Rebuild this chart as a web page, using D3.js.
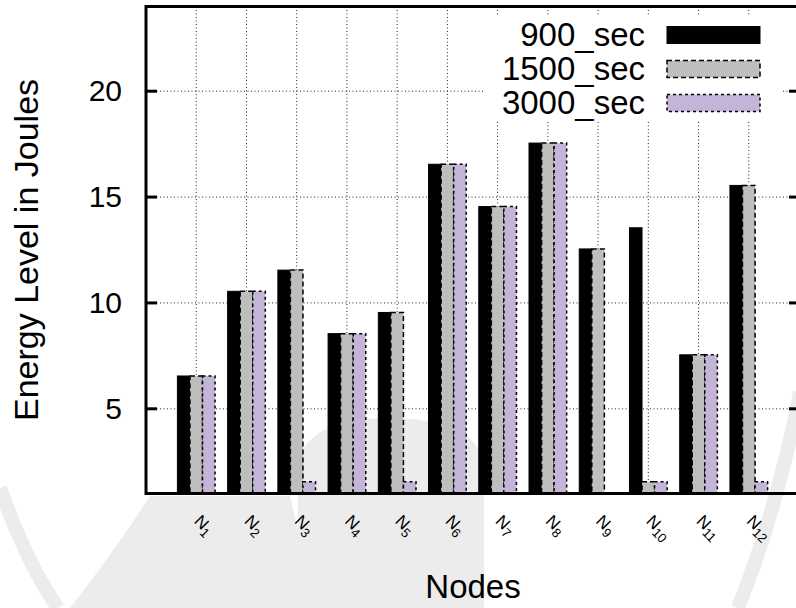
<!DOCTYPE html>
<html>
<head>
<meta charset="utf-8">
<script src="https://cdn.jsdelivr.net/npm/d3@7"></script>
<style>
  html, body { margin: 0; padding: 0; background: #fff; }
  svg { display: block; }
  text { font-family: "Liberation Sans", Arial, Helvetica, sans-serif; fill: #000; }
</style>
</head>
<body>
<svg id="chart" width="796" height="608"></svg>
<script>
// ---- data ----
const nodes = ["1", "2", "3", "4", "5", "6", "7", "8", "9", "10", "11", "12"];
const seriesNames = ["900_sec", "1500_sec", "3000_sec"];
const sec900  = [6.55, 10.55, 11.55, 8.55, 9.55, 16.55, 14.55, 17.55, 12.55, 13.55, 7.55, 15.55];
const sec1500 = [6.55, 10.55, 11.55, 8.55, 9.55, 16.55, 14.55, 17.55, 12.55, 1.55, 7.55, 15.55];
const sec3000 = [6.55, 10.55, 1.55, 8.55, 1.55, 16.55, 14.55, 17.55, 0, 1.55, 7.55, 1.55];
const yTicks = [5, 10, 15, 20];
const yTitle = "Energy Level in Joules";
const xTitle = "Nodes";

const seriesValues = [sec900, sec1500, sec3000];
const styles = [
  { fill: "#000000", dash: null, sw: 1 },
  { fill: "#bebebe", dash: "5,3", sw: 1.5 },
  { fill: "#c4b4d7", dash: "3,3", sw: 1.5 }
];

const svg = d3.select("#chart");

// ---- faint background watermark (approximate) ----
const wm = svg.append("g").attr("fill", "#ececec");
wm.append("path").attr("d", "M150,496 L290,496 C300,540 312,580 322,608 L70,608 C100,570 128,530 150,496 Z");
wm.append("path").attr("d", "M298,608 L298,470 C298,432 340,418 390,418 C440,418 484,432 484,470 L484,608 Z");
svg.append("path").attr("fill", "none").attr("stroke", "#ececec").attr("stroke-width", 14)
  .attr("d", "M800,392 C785,470 765,540 738,608");
svg.append("path").attr("fill", "none").attr("stroke", "#ececec").attr("stroke-width", 14)
  .attr("d", "M0,488 C15,530 35,575 58,608");

// ---- scales ----
const pL = 146, pR = 799, pT = 6.5, pB = 493.5;
const x = d3.scaleLinear().domain([-1, nodes.length]).range([pL, pR]);
const y = d3.scaleLinear().domain([1, 24]).range([pB, pT]);
const bw = x(0.25) - x(0);

// ---- grid ----
const grid = svg.append("g").attr("stroke", "#000").attr("stroke-width", 1).attr("stroke-dasharray", "1,2.5").attr("opacity", 0.85);
grid.selectAll("line.h").data(yTicks).join("line")
  .attr("x1", pL).attr("x2", pR).attr("y1", d => y(d)).attr("y2", d => y(d));
grid.selectAll("line.v").data(nodes).join("line")
  .attr("x1", (d, i) => x(i)).attr("x2", (d, i) => x(i)).attr("y1", pT).attr("y2", pB);

// ---- bars ----
const barsG = svg.append("g");
seriesValues.forEach((vals, s) => {
  const st = styles[s];
  barsG.append("g").selectAll("rect").data(vals.map((v, i) => ({ v, i })).filter(d => d.v > 1)).join("rect")
    .attr("x", d => x(d.i - 0.375 + s * 0.25))
    .attr("width", bw)
    .attr("y", d => y(d.v))
    .attr("height", d => y(1) - y(d.v))
    .attr("fill", st.fill)
    .attr("stroke", "#000")
    .attr("stroke-width", st.sw)
    .attr("stroke-dasharray", st.dash);
});

// ---- legend ----
svg.append("rect").attr("x", 483).attr("y", 17).attr("width", 298).attr("height", 104).attr("fill", "#fff");
const lg = svg.append("g");
seriesNames.forEach((name, s) => {
  const cy = 35 + s * 34;
  lg.append("text").attr("x", 645).attr("y", cy + 11).attr("text-anchor", "end")
    .attr("font-size", 33).text(name);
  lg.append("rect").attr("x", 667).attr("y", cy - 8.5).attr("width", 93).attr("height", 17)
    .attr("fill", styles[s].fill).attr("stroke", "#000")
    .attr("stroke-width", styles[s].sw).attr("stroke-dasharray", styles[s].dash);
});

// ---- axes ----
const yAxisL = d3.axisLeft(y).tickValues(yTicks).tickSize(0).tickPadding(24);
const gyl = svg.append("g").attr("transform", `translate(${pL},0)`).call(yAxisL);
gyl.select(".domain").remove();
gyl.selectAll("text").attr("font-size", 30).attr("font-family", "Liberation Sans, Arial, sans-serif").attr("fill", "#000");

// tick marks (inward, mirrored)
const tk = svg.append("g").attr("stroke", "#000").attr("stroke-width", 3);
tk.selectAll("line.l").data(yTicks).join("line")
  .attr("x1", pL).attr("x2", pL + 11).attr("y1", d => y(d)).attr("y2", d => y(d));
tk.selectAll("line.r").data(yTicks).join("line")
  .attr("x1", pR - 10).attr("x2", pR).attr("y1", d => y(d)).attr("y2", d => y(d));

// x tick labels (N with subscript), rotated
const xl = svg.append("g");
nodes.forEach((n, i) => {
  const t = xl.append("text")
    .attr("transform", `translate(${x(i) - 3},522) rotate(45)`)
    .attr("font-size", 17);
  t.append("tspan").text("N");
  t.append("tspan").attr("font-size", 13).attr("dy", 4).text(n);
});

// border
const border = svg.append("g").attr("stroke", "#000").attr("stroke-width", 3).attr("fill", "none");
border.append("path").attr("d", `M${pR},${pT} L${pL},${pT} L${pL},${pB} L${pR},${pB} Z`);

// titles
svg.append("text").attr("transform", "translate(38,250) rotate(-90)")
  .attr("text-anchor", "middle").attr("font-size", 34).text(yTitle);
svg.append("text").attr("x", 473).attr("y", 598).attr("text-anchor", "middle")
  .attr("font-size", 33).text(xTitle);
</script>
</body>
</html>
